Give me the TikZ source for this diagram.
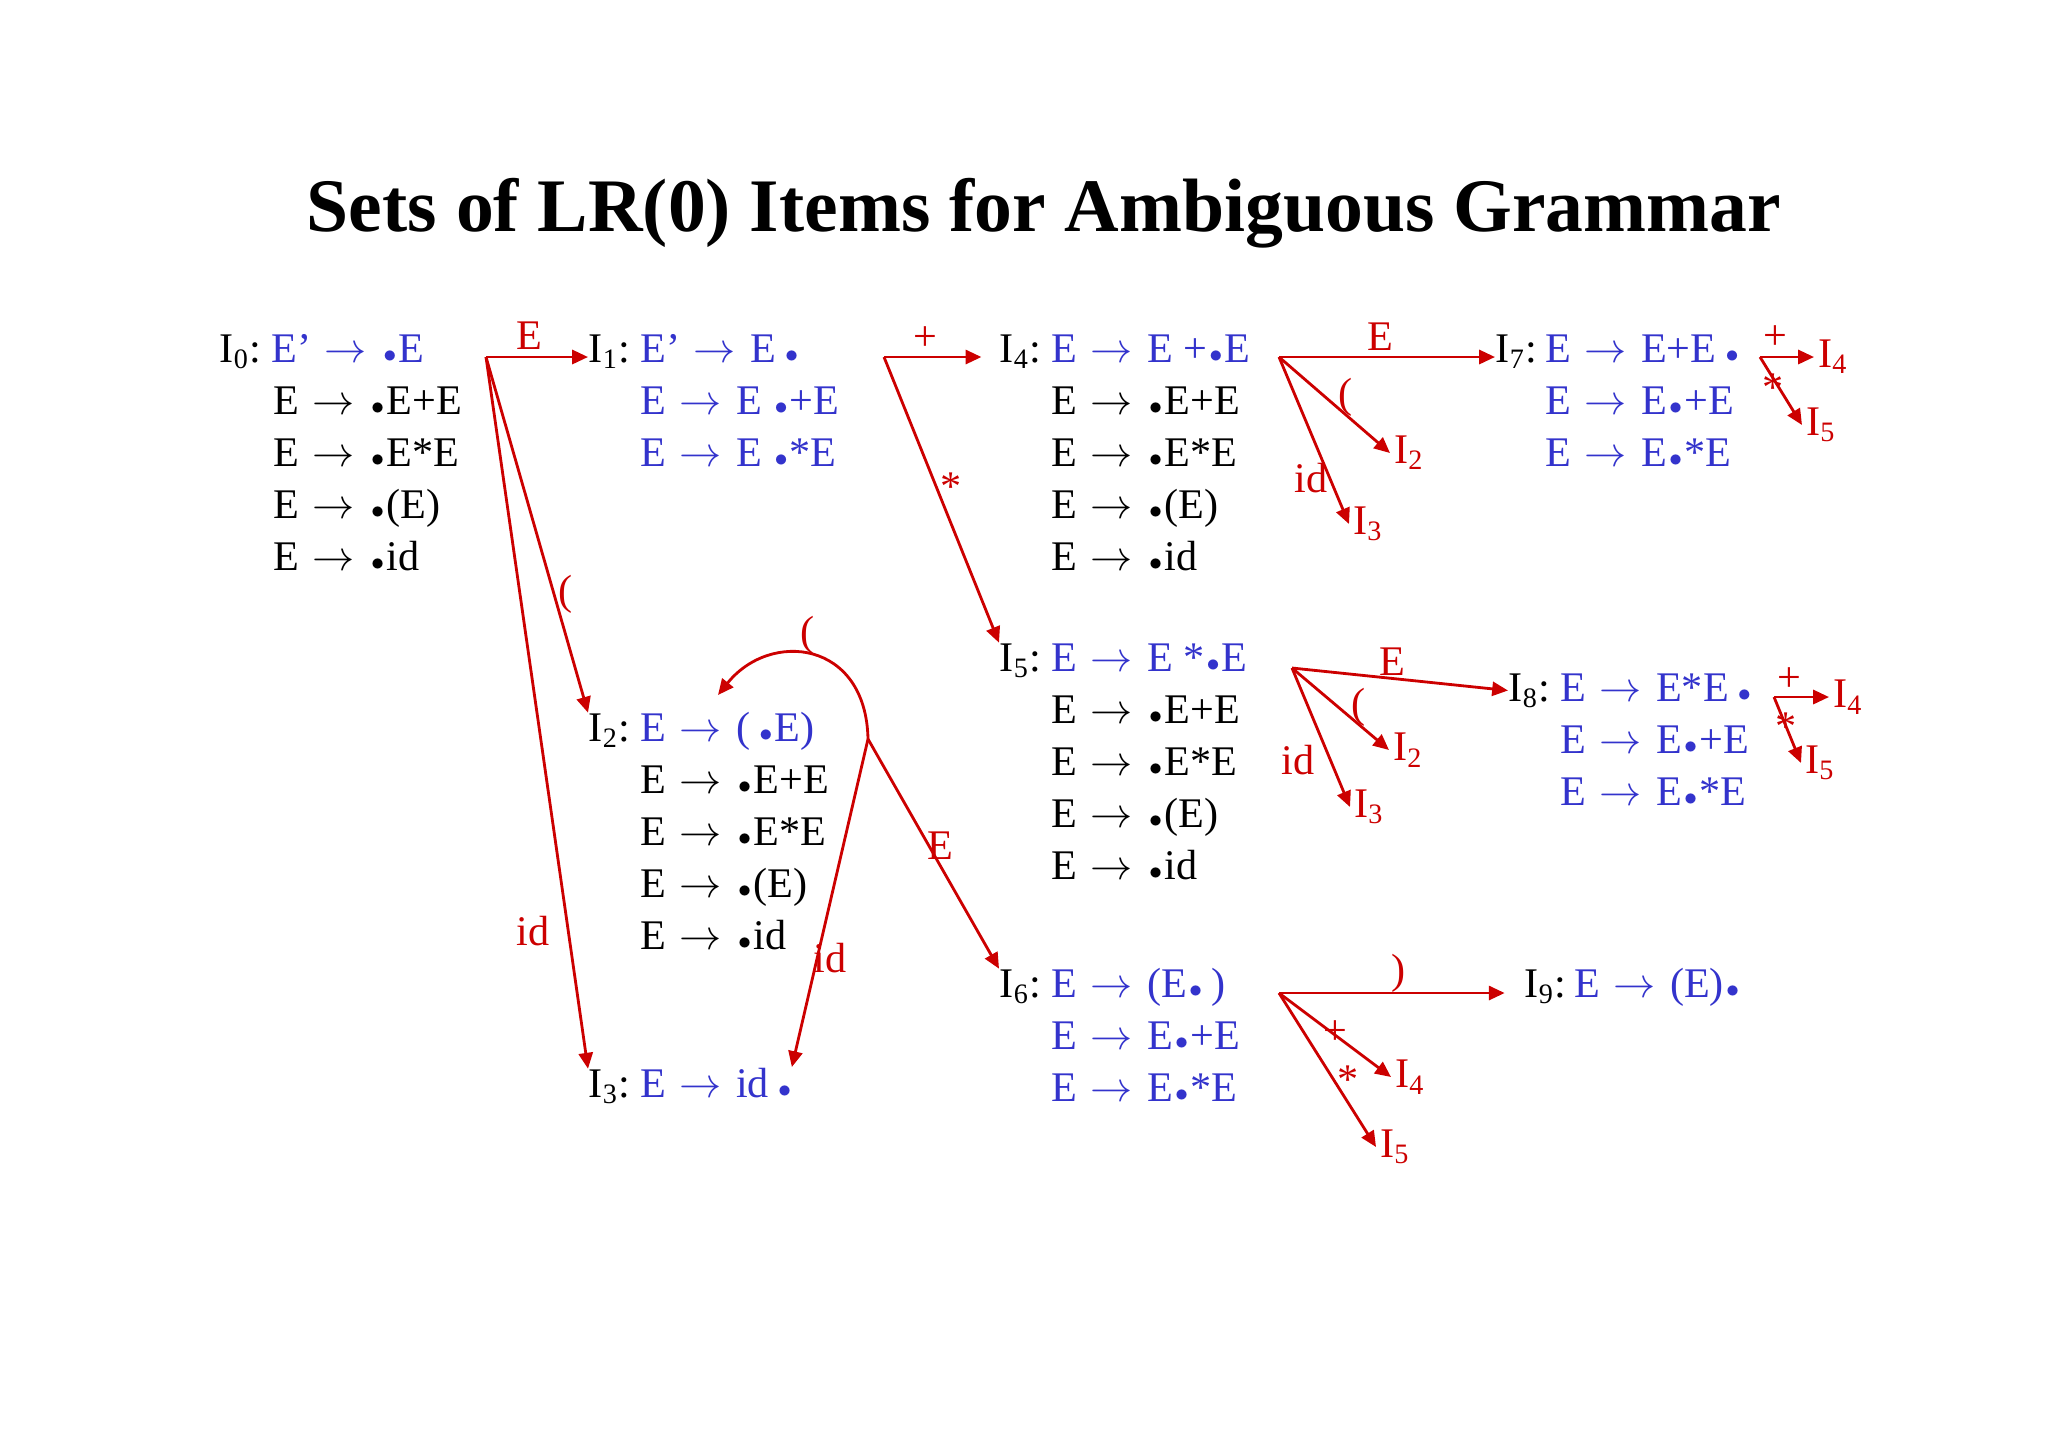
\documentclass[tikz,border=0pt]{standalone}
\usepackage{fontspec}
\setmainfont{Liberation Serif}
\usetikzlibrary{arrows.meta}

\definecolor{itemblue}{RGB}{51,51,204}
\definecolor{gotored}{RGB}{204,0,0}

\newcommand{\goes}{\hspace{0.3em}$\rightarrow$\hspace{0.35em}}
\newcommand{\itemdot}{\hspace{0.05em}\scalebox{0.62}{$\bullet$}\hspace{0.05em}}
\newcommand{\stt}[1]{I\textsubscript{#1}:}
\newcommand{\dst}[1]{I\textsubscript{#1}}

\begin{document}
\begin{tikzpicture}[x=0.01cm, y=-0.01cm,
    every node/.style={font=\fontsize{12}{14}\selectfont},
    lbl/.style={anchor=base west, inner sep=0pt},
    itm/.style={anchor=base west, inner sep=0pt},
    blu/.style={text=itemblue},
    sym/.style={text=gotored, inner sep=0pt},
    dest/.style={text=gotored, anchor=west, inner sep=1pt},
    goto/.style={->, draw=gotored, line width=0.8pt},
    >={Triangle[length=4.5pt,width=4pt]}]

        \useasboundingbox (0,0) rectangle (2048,1447);

        % title
        \node[font=\fontsize{21.5}{26}\selectfont\bfseries, anchor=base] (title) at (1044,231) {Sets of LR(0) Items for Ambiguous Grammar};

        % I0
        \node[lbl] (s0) at (219,362) {\stt{0}};
        \node[itm,blu] (s0a) at (271,362) {E’\goes\itemdot E};
        \node[itm] (s0b) at (273,414) {E\goes\itemdot E+E};
        \node[itm] (s0c) at (273,466) {E\goes\itemdot E*E};
        \node[itm] (s0d) at (273,518) {E\goes\itemdot(E)};
        \node[itm] (s0e) at (273,570) {E\goes\itemdot id};

        % I1
        \node[lbl] (s1) at (588,362) {\stt{1}};
        \node[itm,blu] (s1a) at (640,362) {E’\goes E\,\itemdot};
        \node[itm,blu] (s1b) at (640,414) {E\goes E \itemdot+E};
        \node[itm,blu] (s1c) at (640,466) {E\goes E \itemdot*E};

        % I4
        \node[lbl] (s4) at (999,362) {\stt{4}};
        \node[itm,blu] (s4a) at (1051,362) {E\goes E +\itemdot E};
        \node[itm] (s4b) at (1051,414) {E\goes\itemdot E+E};
        \node[itm] (s4c) at (1051,466) {E\goes\itemdot E*E};
        \node[itm] (s4d) at (1051,518) {E\goes\itemdot(E)};
        \node[itm] (s4e) at (1051,570) {E\goes\itemdot id};

        % I7
        \node[lbl] (s7) at (1495,362) {\stt{7}};
        \node[itm,blu] (s7a) at (1545,362) {E\goes E+E\,\itemdot};
        \node[itm,blu] (s7b) at (1545,414) {E\goes E\itemdot+E};
        \node[itm,blu] (s7c) at (1545,466) {E\goes E\itemdot*E};

        % I2
        \node[lbl] (s2) at (588,741) {\stt{2}};
        \node[itm,blu] (s2a) at (640,741) {E\goes(\,\itemdot E)};
        \node[itm] (s2b) at (640,793) {E\goes\itemdot E+E};
        \node[itm] (s2c) at (640,845) {E\goes\itemdot E*E};
        \node[itm] (s2d) at (640,897) {E\goes\itemdot(E)};
        \node[itm] (s2e) at (640,949) {E\goes\itemdot id};

        % I3
        \node[lbl] (s3) at (588,1097) {\stt{3}};
        \node[itm,blu] (s3a) at (640,1097) {E\goes id\,\itemdot};

        % I5
        \node[lbl] (s5) at (999,671) {\stt{5}};
        \node[itm,blu] (s5a) at (1051,671) {E\goes E *\itemdot E};
        \node[itm] (s5b) at (1051,723) {E\goes\itemdot E+E};
        \node[itm] (s5c) at (1051,775) {E\goes\itemdot E*E};
        \node[itm] (s5d) at (1051,827) {E\goes\itemdot(E)};
        \node[itm] (s5e) at (1051,879) {E\goes\itemdot id};

        % I6
        \node[lbl] (s6) at (999,997) {\stt{6}};
        \node[itm,blu] (s6a) at (1051,997) {E\goes(E\itemdot\,)};
        \node[itm,blu] (s6b) at (1051,1049) {E\goes E\itemdot+E};
        \node[itm,blu] (s6c) at (1051,1101) {E\goes E\itemdot*E};

        % I8
        \node[lbl] (s8) at (1508,701) {\stt{8}};
        \node[itm,blu] (s8a) at (1560,701) {E\goes E*E\,\itemdot};
        \node[itm,blu] (s8b) at (1560,753) {E\goes E\itemdot+E};
        \node[itm,blu] (s8c) at (1560,805) {E\goes E\itemdot*E};

        % I9
        \node[lbl] (s9) at (1524,997) {\stt{9}};
        \node[itm,blu] (s9a) at (1574,997) {E\goes(E)\itemdot};

        % branch points
        \coordinate (b0) at (486,357);
        \coordinate (b1) at (884,357);
        \coordinate (b4) at (1279,357);
        \coordinate (b7) at (1760,357);
        \coordinate (b2) at (868,739);
        \coordinate (b5) at (1292,668);
        \coordinate (b8) at (1774,697);
        \coordinate (b6) at (1279,993);
        \coordinate (c2) at (718,695);

        % targets
        \node[dest] (d4a) at (1390,453) {\dst{2}};
        \node[dest] (d4b) at (1349,524) {\dst{3}};
        \node[dest] (d7a) at (1814,357) {\dst{4}};
        \node[dest] (d7b) at (1802,425) {\dst{5}};
        \node[dest] (d5a) at (1389,750) {\dst{2}};
        \node[dest] (d5b) at (1350,807) {\dst{3}};
        \node[dest] (d8a) at (1829,697) {\dst{4}};
        \node[dest] (d8b) at (1801,763) {\dst{5}};
        \node[dest] (d6a) at (1391,1077) {\dst{4}};
        \node[dest] (d6b) at (1376,1147) {\dst{5}};

        % symbols on the arrows
        \node[sym] (e01) at (529,336) {E};
        \node[sym] (e02) at (566,594) {(};
        \node[sym] (e03) at (533,931) {id};
        \node[sym] (e14) at (925,339) {+};
        \node[sym] (e15) at (951,487) {*};
        \node[sym] (e47) at (1380,337) {E};
        \node[sym] (e42) at (1346,397) {(};
        \node[sym] (e43) at (1311,478) {id};
        \node[sym] (e74) at (1775,338) {+};
        \node[sym] (e75) at (1773,388) {*};
        \node[sym] (e22) at (808,635) {(};
        \node[sym] (e23) at (830,958) {id};
        \node[sym] (e26) at (940,846) {E};
        \node[sym] (e58) at (1392,662) {E};
        \node[sym] (e52) at (1359,707) {(};
        \node[sym] (e53) at (1298,760) {id};
        \node[sym] (e84) at (1789,680) {+};
        \node[sym] (e85) at (1786,727) {*};
        \node[sym] (e69) at (1399,973) {)};
        \node[sym] (e64) at (1335,1033) {+};
        \node[sym] (e65) at (1348,1080) {*};

        % goto arrows
        \draw[goto] (b0) -- (b0 -| s1.west);
        \draw[goto] (b0) -- (s2.north west);
        \draw[goto] (b0) -- (s3.north west);
        \draw[goto, shorten >=5pt] (b1) -- (b1 -| s4.west);
        \draw[goto] (b1) -- (s5.north west);
        \draw[goto] (b4) -- (b4 -| s7.west);
        \draw[goto] (b4) -- (d4a.west);
        \draw[goto] (b4) -- (d4b.west);
        \draw[goto] (b7) -- (d7a.west);
        \draw[goto] (b7) -- (d7b.west);
        \draw[goto] (b2) .. controls (866,640) and (770,630) .. (c2);
        \draw[goto] (b2) -- (s3a.north east);
        \draw[goto] (b2) -- (s6.north west);
        \draw[goto] (b5) -- (s8.west);
        \draw[goto] (b5) -- (d5a.west);
        \draw[goto] (b5) -- (d5b.west);
        \draw[goto] (b8) -- (d8a.west);
        \draw[goto] (b8) -- (d8b.west);
        \draw[goto, shorten >=5.5pt] (b6) -- (b6 -| s9.west);
        \draw[goto] (b6) -- (d6a.west);
        \draw[goto] (b6) -- (d6b.west);
\end{tikzpicture}
\end{document}
